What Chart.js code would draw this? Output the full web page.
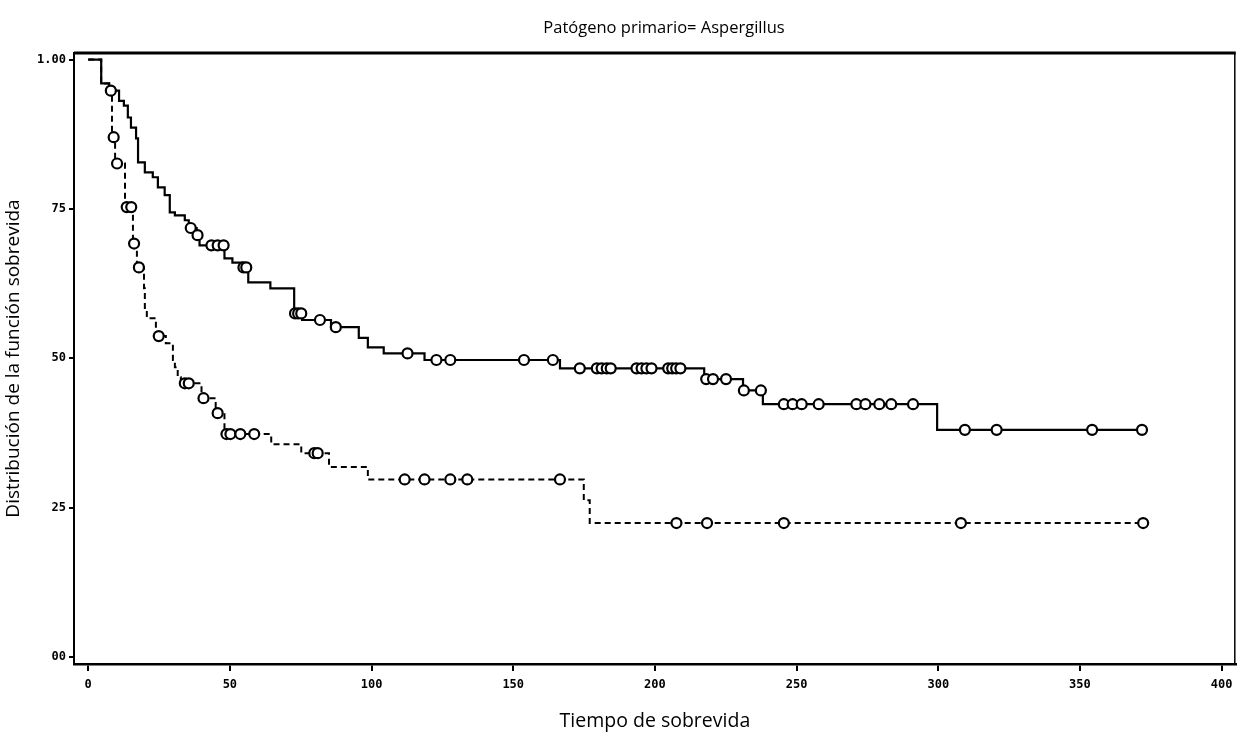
<!DOCTYPE html>
<html>
<head>
<meta charset="utf-8">
<script src="https://cdn.jsdelivr.net/npm/chart.js@4/dist/chart.umd.min.js"></script>
<style>
  html, body { margin: 0; padding: 0; background: #fff; }
  #wrap { width: 1243px; height: 743px; }
</style>
</head>
<body>
<div id="wrap"><canvas id="km"></canvas></div>
<script>
"use strict";

// Kaplan-Meier curves (time, survival after the step)
const SOLID_T = [0, 4.6, 7.4, 10.9, 12.6, 14.0, 15.1, 16.9, 17.6, 20.0, 22.8, 24.6, 27.0, 28.8, 30.6,
  34.1, 35.5, 38.3, 39.3, 48.1, 50.9, 54.4, 56.5, 64.3, 72.7, 75.5, 85.7, 95.5, 98.7, 104.3,
  118.7, 166.5, 217.4, 231.1, 238.1, 299.6, 371.9];
const SOLID_S = [1.0, 0.960, 0.948, 0.931, 0.923, 0.903, 0.886, 0.868, 0.828, 0.811, 0.803, 0.786, 0.773, 0.744, 0.739,
  0.731, 0.718, 0.706, 0.689, 0.667, 0.660, 0.652, 0.627, 0.617, 0.575, 0.564, 0.552, 0.534, 0.518, 0.508,
  0.497, 0.483, 0.465, 0.446, 0.423, 0.380, 0.380];
const SOLID_CENSORED = [8.0, 36.2, 38.6, 43.5, 45.7, 47.8, 54.8, 55.8, 73.0, 74.1, 75.2, 81.8, 87.4, 112.7,
  122.9, 127.8, 153.8, 164.0, 173.5, 179.5, 181.2, 183.0, 184.4, 193.5, 195.3, 197.0, 198.8,
  204.7, 206.1, 207.5, 209.0, 218.1, 220.5, 225.1, 231.4, 237.4, 245.5, 248.6, 251.8, 257.8,
  271.1, 274.3, 279.2, 283.4, 291.1, 309.4, 320.6, 354.3, 371.9];

const DASH_T = [0, 4.6, 7.4, 8.4, 9.5, 13.0, 15.8, 17.2, 19.7, 20.0, 20.7, 23.9, 24.2, 27.4, 29.9,
  30.6, 31.6, 32.7, 40.0, 40.4, 45.0, 48.1, 64.6, 75.2, 85.0, 98.7, 174.9, 177.0, 372.3];
const DASH_S = [1.0, 0.960, 0.948, 0.870, 0.826, 0.753, 0.692, 0.652, 0.617, 0.580, 0.567, 0.547, 0.537, 0.525, 0.497,
  0.485, 0.468, 0.458, 0.441, 0.433, 0.408, 0.373, 0.356, 0.341, 0.318, 0.297, 0.262, 0.224, 0.224];
const DASH_CENSORED = [9.0, 10.2, 13.6, 15.2, 16.2, 17.9, 24.9, 34.1, 35.5, 40.7, 45.7, 48.8, 50.2, 53.7, 58.6,
  79.8, 81.0, 111.7, 118.7, 127.8, 133.8, 166.5, 207.6, 218.4, 245.5, 308.0, 372.3];

const X_TICKS = [0, 50, 100, 150, 200, 250, 300, 350, 400];
const Y_TICKS = [0, 0.25, 0.5, 0.75, 1];
const Y_TICK_LABELS = ["00", "25", "50", "75", "1.00"];

const TITLE = "Patógeno primario= Aspergillus";
const X_TITLE = "Tiempo de sobrevida";
const Y_TITLE = "Distribución de la función sobrevida";

function toPoints(ts, ss) {
  return ts.map((t, i) => ({ x: t, y: ss[i] }));
}

// value of the step curve at time t, so censor marks sit on their curve
function survAt(ts, ss, t) {
  let s = ss[0];
  for (let i = 0; i < ts.length; i++) {
    if (ts[i] <= t) s = ss[i];
  }
  return s;
}

function censorPoints(ts, ss, cens) {
  return cens.map(t => ({ x: t, y: survAt(ts, ss, t) }));
}

const markerStyle = {
  type: "scatter",
  showLine: false,
  pointStyle: "circle",
  pointRadius: 5,
  pointBorderWidth: 2.2,
  pointBorderColor: "#000",
  pointBackgroundColor: "#fff",
  order: 0
};

const tickFont = { family: "'DejaVu Sans Mono'", size: 12, weight: "bold" };

const framePlugin = {
  id: "frame",
  afterDraw(chart) {
    const { ctx, chartArea: a } = chart;
    ctx.save();
    ctx.strokeStyle = "#000";
    ctx.lineWidth = 3;
    ctx.beginPath();
    ctx.moveTo(a.left, a.top);
    ctx.lineTo(a.right, a.top);
    ctx.stroke();
    ctx.lineWidth = 1.5;
    ctx.beginPath();
    ctx.moveTo(a.right - 1, a.top);
    ctx.lineTo(a.right - 1, a.bottom);
    ctx.stroke();
    ctx.fillStyle = "#000";
    ctx.font = "16.5px 'Open Sans'";
    ctx.textAlign = "center";
    ctx.textBaseline = "middle";
    ctx.fillText(TITLE, 664, 28);
    ctx.restore();
  }
};

const config = {
  type: "line",
  data: {
    datasets: [
      Object.assign({ data: censorPoints(SOLID_T, SOLID_S, SOLID_CENSORED) }, markerStyle),
      Object.assign({ data: censorPoints(DASH_T, DASH_S, DASH_CENSORED) }, markerStyle),
      {
        data: toPoints(SOLID_T, SOLID_S),
        borderColor: "#000",
        borderWidth: 2.2,
        stepped: true,
        pointRadius: 0,
        fill: false,
        order: 1
      },
      {
        data: toPoints(DASH_T, DASH_S),
        borderColor: "#000",
        borderWidth: 2,
        borderDash: [6, 4],
        stepped: true,
        pointRadius: 0,
        fill: false,
        order: 1
      }
    ]
  },
  options: {
    responsive: true,
    maintainAspectRatio: false,
    animation: false,
    layout: { padding: { left: 0, right: 1, top: 53, bottom: 0 } },
    plugins: {
      legend: { display: false },
      tooltip: { enabled: false }
    },
    scales: {
      x: {
        type: "linear",
        min: -5,
        max: 405,
        afterBuildTicks: axis => { axis.ticks = X_TICKS.map(v => ({ value: v })); },
        afterFit: axis => { axis.height = 79; },
        grid: { display: true, drawOnChartArea: false, color: "#000", tickLength: 7, lineWidth: 2 },
        border: { display: true, color: "#000", width: 2.5 },
        ticks: {
          color: "#000",
          padding: 7,
          maxRotation: 0,
          font: tickFont
        },
        title: {
          display: true,
          text: X_TITLE,
          color: "#000",
          font: { family: "'Open Sans'", size: 19.5 },
          padding: { top: 0, bottom: 10 }
        }
      },
      y: {
        type: "linear",
        min: -0.012,
        max: 1.011,
        afterBuildTicks: axis => { axis.ticks = Y_TICKS.map(v => ({ value: v })); },
        afterFit: axis => { axis.width = 74; },
        grid: { display: true, drawOnChartArea: false, color: "#000", tickLength: 5, lineWidth: 2 },
        border: { display: true, color: "#000", width: 2 },
        ticks: {
          color: "#000",
          padding: 3,
          font: tickFont,
          callback: value => Y_TICK_LABELS[Y_TICKS.indexOf(value)]
        },
        title: {
          display: true,
          text: Y_TITLE,
          color: "#000",
          font: { family: "'Open Sans'", size: 19 },
          padding: { top: 2, bottom: 0 }
        }
      }
    }
  },
  plugins: [framePlugin]
};

window.onload = function() {
  const ctx = document.getElementById("km").getContext("2d");
  window.kmChart = new Chart(ctx, config);
};
</script>
</body>
</html>
